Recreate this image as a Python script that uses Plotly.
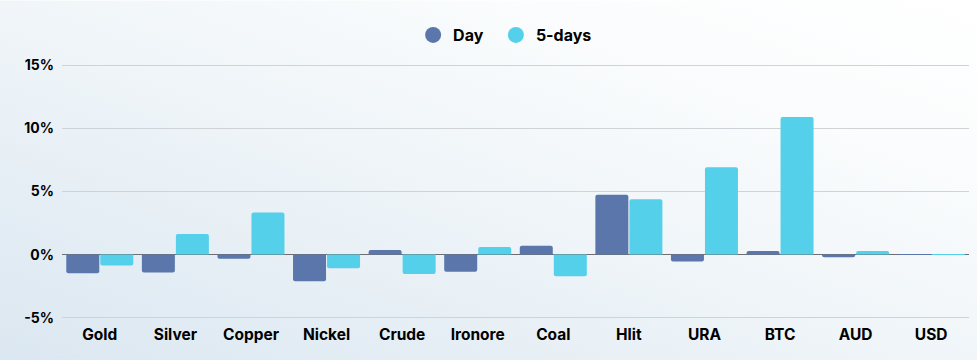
import plotly.graph_objects as go
import base64

categories = ["Gold", "Silver", "Copper", "Nickel", "Crude", "Ironore", "Coal", "Hlit", "URA", "BTC", "AUD", "USD"]
day_values = [-1.47, -1.42, -0.32, -2.10, 0.37, -1.35, 0.71, 4.75, -0.55, 0.29, -0.20, 0.03]
five_day_values = [-0.87, 1.64, 3.33, -1.08, -1.53, 0.61, -1.71, 4.39, 6.92, 10.91, 0.29, -0.02]
y_ticks = [-5, 0, 5, 10, 15]
series_names = ["Day", "5-days"]
colors = ["#5a76aa", "#54d0ea"]

FONT = "Inter, Noto Sans, sans-serif"

svg = ('<svg xmlns="http://www.w3.org/2000/svg" width="977" height="360" preserveAspectRatio="none">'
       '<defs><linearGradient id="g" x1="0" y1="1" x2="1" y2="0">'
       '<stop offset="0" stop-color="#dbe7f1"/><stop offset="0.45" stop-color="#eef4f8"/>'
       '<stop offset="0.75" stop-color="#fafcfd"/><stop offset="1" stop-color="#ffffff"/>'
       '</linearGradient></defs><rect width="977" height="360" fill="url(#g)"/></svg>')
bg_uri = "data:image/svg+xml;base64," + base64.b64encode(svg.encode()).decode()

L, R, T, B = 62, 8, 63.7, 41
PW, PH = 977 - L - R, 360 - T - B

fig = go.Figure()
for name, vals, c in zip(series_names, [day_values, five_day_values], colors):
    fig.add_trace(go.Bar(x=categories, y=vals, name=name, marker_color=c,
                         marker_line_width=0, showlegend=False))
legend_labels = [series_names[0] + "\u00a0\u00a0", series_names[1]]
for name, c in zip(legend_labels, colors):
    fig.add_trace(go.Scatter(x=[None], y=[None], mode="markers", name=name,
                             marker=dict(symbol="circle", size=17, color=c)))

fig.update_layout(
    width=977, height=360,
    margin=dict(l=L, r=R, t=T, b=B, autoexpand=False),
    paper_bgcolor="rgba(0,0,0,0)",
    plot_bgcolor="rgba(0,0,0,0)",
    barmode="group", bargap=0.1, bargroupgap=0.03, barcornerradius=2,
    font=dict(family=FONT, color="#000000", size=14),
    legend=dict(orientation="h", x=0.517, xanchor="center", xref="container",
                y=1 - 35 / 360, yanchor="middle", yref="container",
                font=dict(family=FONT, size=16, color="#000000", weight="bold"),
                itemsizing="trace", bgcolor="rgba(0,0,0,0)"),
    images=[dict(source=bg_uri, xref="paper", yref="paper", x=-L / PW, y=1 + T / PH,
                 sizex=977 / PW, sizey=360 / PH, xanchor="left", yanchor="top",
                 sizing="stretch", layer="below")],
    showlegend=True,
)
fig.update_xaxes(showgrid=False, showline=False, zeroline=False, automargin=False,
                 tickfont=dict(family=FONT, size=15.5, weight="bold", color="#000000"),
                 ticklabelstandoff=4)
fig.update_yaxes(range=[-5.1, 15.1], tickvals=y_ticks, ticktext=[f"{v}%" for v in y_ticks],
                 showgrid=True, gridcolor="#cfd3d8", gridwidth=1, automargin=False,
                 zeroline=True, zerolinecolor="#6e6e6e", zerolinewidth=1,
                 showline=False,
                 tickfont=dict(family=FONT, size=14, weight="bold", color="#000000"),
                 ticklabelstandoff=7)

fig.write_html("out.html", config={"displayModeBar": False},
               post_script="document.body.style.margin='0';")
